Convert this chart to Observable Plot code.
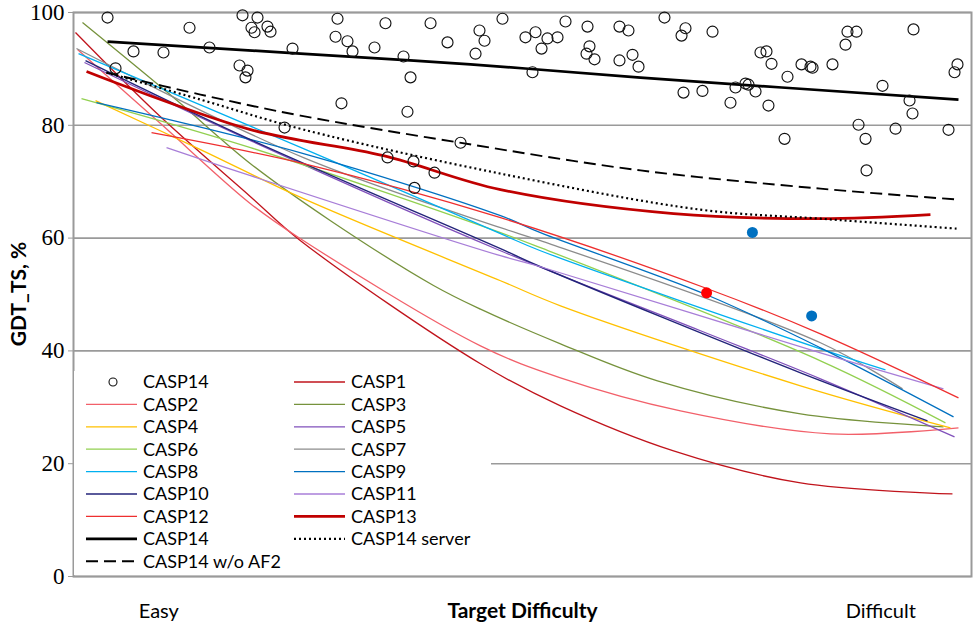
<!DOCTYPE html>
<html><head><meta charset="utf-8">
<script src="https://cdn.jsdelivr.net/npm/d3@7"></script>
<script src="https://cdn.jsdelivr.net/npm/@observablehq/plot@0.6"></script>
<style>
body{margin:0;background:#fff;}
#chart svg{display:block;background:#fff;}
</style></head><body><div id="chart"></div>
<script>
// ---------- data (x = target difficulty 0..100, y = GDT_TS %) ----------
const yTicks = [0, 20, 40, 60, 80, 100];
const xTickLabels = ["Easy", "Difficult"];
const xTickPositions = [9.5, 89.9];
const xAxisTitle = "Target Difficulty";
const yAxisTitle = "GDT_TS, %";

// CASP14 individual targets (open circles)
const casp14Targets = [
 [3.79,99.1],[4.68,90.1],[6.68,93.1],[10.02,92.9],[12.92,97.3],[15.14,93.8],[18.49,90.6],[19.38,89.7],
 [19.15,88.5],[18.82,99.5],[20.49,99.1],[19.82,97.3],[20.16,96.5],[21.60,97.5],[21.94,96.6],[23.50,79.6],
 [24.39,93.6],[29.40,98.9],[29.18,95.7],[30.51,94.9],[31.07,93.1],[33.52,93.8],[34.74,98.1],[36.75,92.2],
 [37.53,88.5],[29.84,83.9],[37.19,82.4],[39.76,98.1],[41.65,94.7],[43.10,76.9],[34.97,74.3],[37.86,73.6],
 [40.20,71.6],[37.97,68.9],[45.21,96.8],[45.77,95.0],[44.77,92.7],[47.77,98.9],[50.33,95.6],[51.45,96.5],
 [52.78,95.4],[53.90,95.6],[52.12,93.6],[54.79,98.4],[51.11,89.4],[57.24,97.5],[57.46,94.0],[57.13,92.7],
 [58.02,91.7],[60.80,97.5],[61.80,96.8],[62.25,92.5],[60.80,91.5],[62.92,90.4],[65.81,99.1],[68.15,97.2],
 [67.71,95.9],[71.16,96.6],[67.93,85.8],[70.04,86.1],[73.16,84.0],[73.72,86.7],[74.83,87.4],[75.17,87.2],
 [75.95,86.0],[77.39,83.5],[76.50,92.9],[77.17,93.1],[77.73,90.9],[79.51,88.6],[79.18,77.6],[81.07,90.8],
 [82.07,90.4],[82.30,90.2],[84.52,90.8],[85.97,94.3],[86.19,96.6],[87.19,96.6],[87.42,80.1],[88.20,77.6],
 [88.31,72.0],[90.09,87.0],[91.54,79.4],[93.10,84.4],[93.43,82.1],[93.54,97.0],[97.44,79.2],[98.11,89.4],
 [98.44,90.8]
];
const highlightRed = [[70.5, 50.3]];
const highlightBlue = [[75.6, 61.0], [82.2, 46.2]];

// trend curves (read at several difficulties)
const casp1  = [[0.22,96.45],[9.69,81.5],[19.71,67.35],[25.28,59.54],[45.32,37.71],[54.23,30.26],[66.82,22.27],[80.96,16.59],[97.88,14.64]];
const casp2  = [[0.45,93.43],[9.69,80.30],[19.71,66.11],[25.28,59.89],[45.32,40.90],[54.23,35.23],[67.59,29.37],[84.30,25.29],[98.55,26.35]];
const casp3  = [[1.00,98.22],[11.14,84.92],[19.71,73.20],[28.62,63.09],[40.09,51.60],[45.32,47.40],[54.23,41.26],[65.03,34.69],[80.96,28.84],[96.88,26.53]];
const casp4  = [[2.45,84.38],[14.14,75.69],[25.61,66.99],[47.55,52.44],[54.23,48.00],[80.96,33.81],[97.66,26.35]];
const casp5  = [[1.22,91.13],[19.71,77.28],[47.55,57.76],[69.82,43.57],[83.18,35.05],[98.11,24.76]];
const casp6  = [[0.89,84.74],[19.71,76.04],[47.55,60.96],[52.00,58.30],[83.18,38.24],[97.10,27.24]];
const casp7  = [[0.33,93.61],[25.61,74.27],[47.55,61.85],[52.00,59.54],[83.18,41.44],[92.32,33.27]];
const casp8  = [[0.56,92.72],[25.61,75.87],[47.55,60.78],[52.00,57.76],[83.18,40.37],[90.42,36.65]];
const casp9  = [[2.56,84.03],[25.61,74.98],[47.55,63.98],[52.00,60.96],[70.49,49.96],[83.18,40.55],[98.00,28.31]];
const casp10 = [[1.34,91.48],[19.71,77.46],[47.55,58.12],[52.00,54.92],[80.96,36.11],[95.10,27.60]];
const casp11 = [[10.36,76.04],[19.71,71.07],[47.55,56.88],[52.00,54.92],[83.18,39.66],[96.88,33.27]];
const casp12 = [[8.69,78.70],[25.61,73.20],[47.55,63.62],[70.60,51.02],[83.18,43.03],[98.55,31.68]];
const casp13 = [[1.45,89.53],[19.71,79.24],[34.52,74.62],[47.55,68.59],[66.82,64.33],[83.18,63.44],[95.43,64.15]];
const casp14 = [[3.79,94.85],[25.28,92.72],[44.21,90.8],[63.14,88.46],[98.55,84.56]];
const casp14NoAF2  = [[3.67,89.35],[14.14,85.45],[25.28,81.72],[42.98,76.93],[63.14,72.00],[83.18,68.77],[98.55,66.82]];
const casp14Server = [[3.67,89.35],[14.14,84.56],[25.61,79.24],[47.55,71.43],[69.82,65.04],[83.18,63.44],[98.44,61.67]];

const trendSeries = [
  ["CASP1", casp1], ["CASP2", casp2], ["CASP3", casp3], ["CASP4", casp4], ["CASP5", casp5],
  ["CASP6", casp6], ["CASP7", casp7], ["CASP8", casp8], ["CASP9", casp9], ["CASP10", casp10],
  ["CASP11", casp11], ["CASP12", casp12], ["CASP13", casp13],
  ["CASP14 w/o AF2", casp14NoAF2], ["CASP14 server", casp14Server], ["CASP14", casp14]
];

// ---------- styles ----------
const styleOf = {
  "CASP1":  {stroke: "#c0141c", width: 1.3},
  "CASP2":  {stroke: "#f2606a", width: 1.3},
  "CASP3":  {stroke: "#76923c", width: 1.3},
  "CASP4":  {stroke: "#ffc000", width: 1.3},
  "CASP5":  {stroke: "#8050bb", width: 1.3},
  "CASP6":  {stroke: "#92d050", width: 1.3},
  "CASP7":  {stroke: "#8c8c8c", width: 1.3},
  "CASP8":  {stroke: "#00b0f0", width: 1.3},
  "CASP9":  {stroke: "#0070c0", width: 1.3},
  "CASP10": {stroke: "#23237a", width: 1.4},
  "CASP11": {stroke: "#a87ed8", width: 1.3},
  "CASP12": {stroke: "#ee2f2f", width: 1.3},
  "CASP13": {stroke: "#c00000", width: 2.7},
  "CASP14": {stroke: "#000000", width: 2.7},
  "CASP14 w/o AF2": {stroke: "#000000", width: 1.9, dash: "12,6"},
  "CASP14 server":  {stroke: "#000000", width: 2.2, dash: "2,3"}
};
const sans = "Lato, 'Open Sans', sans-serif";
const serif = "'Liberation Serif', 'DejaVu Serif', serif";

const lineMarks = trendSeries.map(([name, pts]) => Plot.line(pts, {
  x: d => d[0], y: d => d[1], curve: "catmull-rom",
  stroke: styleOf[name].stroke, strokeWidth: styleOf[name].width,
  strokeDasharray: styleOf[name].dash, strokeLinecap: "butt"
}));

const plot = Plot.plot({
  width: 975, height: 629,
  marginLeft: 73, marginRight: 4, marginTop: 12, marginBottom: 53,
  x: {domain: [0, 100], axis: null},
  y: {domain: [0, 100], axis: null},
  style: {background: "#fff"},
  marks: [
    Plot.gridY(yTicks, {stroke: "#9a9a9a", strokeOpacity: 1, strokeWidth: 1.6}),
    Plot.frame({stroke: "#9a9a9a", strokeWidth: 2}),
    Plot.axisY(yTicks, {tickSize: 5, tickPadding: 4, stroke: "#9a9a9a", fill: "#000", fontSize: 23, fontFamily: serif, label: null}),
    ...lineMarks,
    Plot.dot(casp14Targets, {x: d => d[0], y: d => d[1], r: 5.5, stroke: "#111", strokeWidth: 1.15, fill: "none"}),
    Plot.dot(highlightRed, {x: d => d[0], y: d => d[1], r: 5.5, fill: "#ff0000", stroke: "none"}),
    Plot.dot(highlightBlue, {x: d => d[0], y: d => d[1], r: 5.5, fill: "#0070c0", stroke: "none"}),
    Plot.text(xTickPositions, {x: d => d, frameAnchor: "bottom", dy: 41, text: (d, i) => xTickLabels[i], fontSize: 20, fontFamily: sans, fill: "#000"}),
    Plot.text([xAxisTitle], {frameAnchor: "bottom", dy: 41, fontSize: 21, fontWeight: "bold", fontFamily: sans, fill: "#000"})
  ]
});

const svg = d3.select(plot);
// y axis title
svg.append("text")
  .attr("transform", "translate(19,294) rotate(-90)")
  .attr("text-anchor", "middle").attr("dy", "0.35em")
  .attr("font-family", sans).attr("font-size", 21).attr("font-weight", "bold").attr("fill", "#000")
  .text(yAxisTitle);

// ---------- legend inside the plot area ----------
const legendCols = [
  ["CASP14 targets", "CASP2", "CASP4", "CASP6", "CASP8", "CASP10", "CASP12", "CASP14", "CASP14 w/o AF2"],
  ["CASP1", "CASP3", "CASP5", "CASP7", "CASP9", "CASP11", "CASP13", "CASP14 server"]
];
const g = svg.append("g").attr("font-family", sans).attr("font-size", 18).attr("text-anchor", "start");
g.append("rect").attr("x", 74).attr("y", 371).attr("width", 417).attr("height", 204).attr("fill", "#fff");
const colX = [86, 294];
legendCols.forEach((col, ci) => {
  col.forEach((name, ri) => {
    const y = 382 + ri * 22.4;
    const x0 = colX[ci];
    if (name === "CASP14 targets") {
      g.append("circle").attr("cx", x0 + 27).attr("cy", y).attr("r", 4).attr("fill", "none").attr("stroke", "#111").attr("stroke-width", 1.1);
    } else {
      const s = styleOf[name];
      g.append("line").attr("x1", x0).attr("x2", x0 + 51).attr("y1", y).attr("y2", y)
        .attr("stroke", s.stroke).attr("stroke-width", s.width).attr("stroke-dasharray", s.dash || null);
    }
    g.append("text").attr("x", x0 + 57).attr("y", y).attr("dy", "0.35em").attr("fill", "#000")
      .attr("text-anchor", "start")
      .text(name === "CASP14 targets" ? "CASP14" : name);
  });
});

document.getElementById("chart").appendChild(plot);
</script></body></html>
